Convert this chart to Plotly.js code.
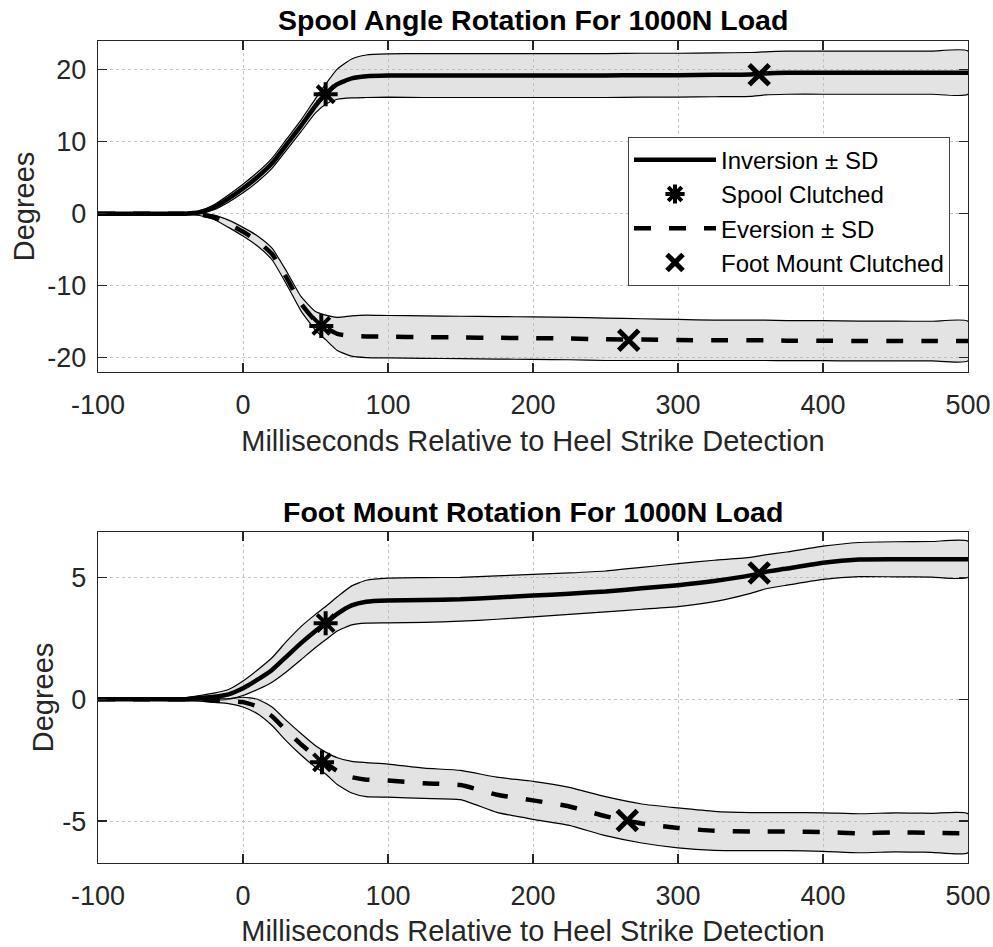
<!DOCTYPE html>
<html>
<head>
<meta charset="utf-8">
<script src="https://cdn.plot.ly/plotly-3.0.1.min.js"></script>
<style>html,body{margin:0;padding:0;background:#fff;}#chart{width:993px;height:947px;}</style>
</head>
<body>
<div id="chart"></div>
<script>
// ---- data ----
const timeMs = [-100,-80,-60,-40,-30,-20,-10,0,10,20,30,40,50,57,65,75,85,100,125,150,175,200,225,250,275,300,325,350,360,375,400,425,450,475,500];

// Spool angle rotation (degrees)
const spoolInvMean = [0,0,0,0, 0.2,0.9,2.1,3.5, 5.1,7.0,9.6,12.2,15.0, 16.6,18.0,18.8,19.1, 19.2,19.2,19.2,19.2,19.2, 19.2,19.2,19.25,19.25, 19.3,19.35,19.5,19.6, 19.6,19.6,19.6,19.6,19.6];
const spoolInvSD   = [0.08,0.08,0.08,0.1, 0.2,0.35,0.5,0.6, 0.65,0.7,0.75,0.8,1.0, 1.4,2.1,2.7,2.95, 3.0,3.05,3.05,3.05,3.05, 3.05,3.05,3.05,3.05, 3.05,3.05,3.0,3.0, 3.0,3.0,3.0,3.0,3.0];
const spoolEvMean  = [0,0,0,0, -0.1,-0.5,-1.4,-2.5, -3.8,-5.6,-8.9,-12.5,-14.9, -15.8,-16.7,-17.0,-17.05, -17.1,-17.15,-17.2,-17.25,-17.3, -17.35,-17.45,-17.5,-17.55, -17.6,-17.6,-17.6,-17.65, -17.65,-17.7,-17.7,-17.7,-17.7];
const spoolEvSD    = [0.08,0.08,0.08,0.1, 0.15,0.3,0.5,0.6, 0.7,0.8,0.9,1.0,1.3, 1.7,2.3,2.8,2.95, 2.95,2.95,2.95,2.95,2.95, 2.95,2.95,2.9,2.85, 2.8,2.8,2.8,2.78, 2.78,2.76,2.76,2.75,2.75];

// Foot mount rotation (degrees)
const footInvMean = [0,0,0,0, 0.05,0.1,0.2,0.45, 0.8,1.2,1.75,2.3,2.8, 3.12,3.5,3.85,4.0, 4.05,4.07,4.1,4.17,4.25, 4.33,4.42,4.55,4.68, 4.85,5.08,5.22,5.36, 5.6,5.73,5.74,5.74,5.74];
const footInvSD   = [0.05,0.05,0.05,0.06, 0.1,0.15,0.2,0.3, 0.4,0.5,0.62,0.68,0.68, 0.68,0.7,0.8,0.88, 0.92,0.92,0.9,0.89,0.87, 0.85,0.84,0.86,0.88, 0.85,0.74,0.7,0.68, 0.68,0.7,0.72,0.73,0.74];
const footEvMean  = [0,0,0,0, -0.02,-0.05,-0.08,-0.12, -0.3,-0.7,-1.3,-1.85,-2.35, -2.62,-2.95,-3.2,-3.3, -3.34,-3.45,-3.52,-3.92,-4.15, -4.4,-4.8,-5.1,-5.28, -5.4,-5.43,-5.43,-5.43, -5.45,-5.5,-5.46,-5.48,-5.5];
const footEvSD    = [0.05,0.05,0.05,0.06, 0.06,0.08,0.1,0.2, 0.3,0.38,0.42,0.44,0.44, 0.45,0.55,0.65,0.7, 0.68,0.62,0.6,0.72,0.78, 0.78,0.8,0.8,0.82, 0.8,0.78,0.78,0.78, 0.79,0.8,0.8,0.8,0.8];

// Clutch events [inversion, eversion]
const spoolClutchTimeTop = [57, 54];
const spoolClutchValTop  = [16.6, -15.6];
const footClutchTimeTop  = [356, 266];
const footClutchValTop   = [19.3, -17.6];
const spoolClutchTimeBot = [57, 54.5];
const spoolClutchValBot  = [3.12, -2.59];
const footClutchTimeBot  = [356, 265];
const footClutchValBot   = [5.18, -4.98];

const xTicks = [-100,0,100,200,300,400,500];
const yTicksTop = [-20,-10,0,10,20];
const yTicksBot = [-5,0,5];
const names = ['Inversion ± SD','Spool Clutched','Eversion ± SD','Foot Mount Clutched'];
const titles = ['Spool Angle Rotation For 1000N Load','Foot Mount Rotation For 1000N Load'];
const xLabel = 'Milliseconds Relative to Heel Strike Detection';
const yLabel = 'Degrees';

// ---- build traces ----
const FONT = 'Liberation Sans, Arial, Helvetica, sans-serif';
const INK = '#262626';

function band(mean, sd, xa, ya){
  const up = mean.map((m,i)=>m+sd[i]);
  const lo = mean.map((m,i)=>m-sd[i]);
  return {
    x: timeMs.concat(timeMs.slice().reverse()),
    y: up.concat(lo.slice().reverse()),
    xaxis: xa, yaxis: ya, type:'scatter', mode:'lines',
    fill:'toself', fillcolor:'rgba(185,185,185,0.40)',
    line:{color:'#000', width:1.2, shape:'spline', smoothing:0.5},
    showlegend:false, hoverinfo:'skip'
  };
}
function meanLine(mean, xa, ya, dashed, legend, rank){
  return {
    x: timeMs, y: mean, xaxis: xa, yaxis: ya, type:'scatter', mode:'lines',
    name: dashed ? names[2] : names[0],
    line:{color:'#000', width:4.5, dash: dashed ? '17px,18px' : 'solid', shape:'spline', smoothing:0.5},
    showlegend: legend, legendrank: rank
  };
}
function markers(xs, ys, xa, ya, sym, lw, name, legend, rank){
  return {
    x: xs, y: ys, xaxis: xa, yaxis: ya, type:'scatter', mode:'markers', name: name,
    marker:{symbol: sym, size: 20, color:'#000', line:{color:'#000', width:lw}},
    showlegend: legend, legendrank: rank
  };
}

const data = [
  band(spoolInvMean, spoolInvSD, 'x', 'y'),
  band(spoolEvMean, spoolEvSD, 'x', 'y'),
  band(footInvMean, footInvSD, 'x2', 'y2'),
  band(footEvMean, footEvSD, 'x2', 'y2'),
  meanLine(spoolInvMean, 'x', 'y', false, true, 1),
  meanLine(spoolEvMean, 'x', 'y', true, true, 3),
  meanLine(footInvMean, 'x2', 'y2', false, false, 10),
  meanLine(footEvMean, 'x2', 'y2', true, false, 10),
  markers(spoolClutchTimeTop, spoolClutchValTop, 'x', 'y', 'asterisk-open', 4, names[1], true, 2),
  markers(footClutchTimeTop, footClutchValTop, 'x', 'y', 'x-thin-open', 5, names[3], true, 4),
  markers(spoolClutchTimeBot, spoolClutchValBot, 'x2', 'y2', 'asterisk-open', 4, names[1], false, 10),
  markers(footClutchTimeBot, footClutchValBot, 'x2', 'y2', 'x-thin-open', 5, names[3], false, 10)
];

function xAxis(anchor){
  return {
    domain:[98/993, 968/993], anchor: anchor, range:[-100,500],
    tickmode:'array', tickvals: xTicks, ticktext: xTicks.map(String),
    showline:true, linecolor:INK, linewidth:1.3, mirror:'ticks',
    ticks:'inside', ticklen:9, tickwidth:1.3, tickcolor:INK,
    showgrid:true, gridcolor:'#c4c4c4', griddash:'dot', gridwidth:1,
    zeroline:false, ticklabelstandoff:8,
    tickfont:{family:FONT, size:27, color:INK},
    title:{text:xLabel, font:{family:FONT, size:29, color:INK}, standoff:12}
  };
}
function yAxis(domain, anchor, range, ticks, standoff){
  return {
    domain: domain, anchor: anchor, range: range,
    tickmode:'array', tickvals: ticks, ticktext: ticks.map(String),
    showline:true, linecolor:INK, linewidth:1.3, mirror:'ticks',
    ticks:'inside', ticklen:9, tickwidth:1.3, tickcolor:INK,
    showgrid:true, gridcolor:'#c4c4c4', griddash:'dot', gridwidth:1,
    zeroline:false, ticklabelstandoff:5,
    tickfont:{family:FONT, size:27, color:INK},
    title:{text:yLabel, font:{family:FONT, size:29, color:INK}, standoff:standoff}
  };
}

const H = 947;
const layout = {
  width:993, height:947,
  margin:{l:0, r:0, t:0, b:0},
  paper_bgcolor:'#fff', plot_bgcolor:'#fff',
  showlegend:true,
  hovermode:false,
  xaxis: xAxis('y'),
  yaxis: yAxis([1-372/H, 1-41/H], 'x', [-22, 24], yTicksTop, 4),
  xaxis2: xAxis('y2'),
  yaxis2: yAxis([1-863/H, 1-532/H], 'x2', [-6.72, 6.86], yTicksBot, 0),
  legend:{
    x:628/993, y:1-136.7/H, xanchor:'left', yanchor:'top',
    bgcolor:'#fff', bordercolor:'#444', borderwidth:1,
    font:{family:FONT, size:24, color:'#000'},
    itemwidth:82, traceorder:'normal'
  },
  annotations:[
    {text:'<b>'+titles[0]+'</b>', xref:'paper', yref:'paper', x:533/993, y:1-20/H, xanchor:'center', yanchor:'middle', showarrow:false, font:{family:FONT, size:28.5, color:'#000'}},
    {text:'<b>'+titles[1]+'</b>', xref:'paper', yref:'paper', x:533/993, y:1-511.7/H, xanchor:'center', yanchor:'middle', showarrow:false, font:{family:FONT, size:28.5, color:'#000'}}
  ]
};

Plotly.newPlot('chart', data, layout, {staticPlot:true, displayModeBar:false});
</script>
</body>
</html>
